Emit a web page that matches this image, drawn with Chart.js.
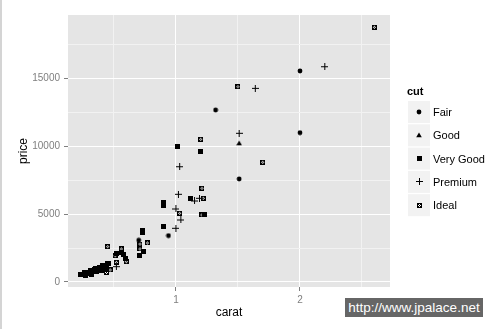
<!DOCTYPE html>
<html>
<head>
<meta charset="utf-8">
<script src="https://cdn.jsdelivr.net/npm/chart.js@4/dist/chart.umd.min.js"></script>
<style>
  body { margin: 0; background: #fff; }
  #wrap { position: relative; width: 499px; height: 329px; }
  #edge { position: absolute; left: 0; top: 0; width: 2px; height: 329px; background: #d4d4d4; }
  #mark {
    position: absolute; left: 345px; top: 298px; width: 138px; height: 19px;
    background: #666; color: #fff; font: 13.5px "Liberation Sans", Arial, sans-serif;
    line-height: 19px; text-align: center; white-space: nowrap;
  }
</style>
</head>
<body>
<div id="wrap">
  <canvas id="chart" width="499" height="329"></canvas>
  <div id="edge"></div>
  <div id="mark">http://www.jpalace.net</div>
</div>
<script>
// categories
const cuts = ['Fair', 'Good', 'Very Good', 'Premium', 'Ideal'];

// values (carat, price)
const fairCarat = [2.00, 1.32, 2.00, 1.51, 0.94, 0.70];
const fairPrice = [15570, 12690, 11015, 7600, 3420, 3075];

const goodCarat = [1.51];
const goodPrice = [10255];

const veryGoodCarat = [1.01, 1.20, 1.12, 0.90, 0.90, 1.23, 0.90, 0.73, 0.73, 0.74, 0.71,
  0.52, 0.56, 0.58, 0.59, 0.23, 0.26, 0.28, 0.31, 0.32, 0.34, 0.36, 0.38, 0.40, 0.41,
  0.44, 0.45, 0.46, 0.25, 0.29, 0.30, 0.33, 0.35, 0.37, 0.39, 0.42, 0.43, 0.27];
const veryGoodPrice = [9983, 9665, 6124, 5900, 5680, 4980, 4110, 3813, 3665, 2213, 1970,
  2117, 2150, 1992, 1749, 516, 664, 590, 811, 553, 885, 738, 1033, 811, 1180,
  1033, 1328, 1400, 560, 700, 620, 760, 980, 870, 940, 1100, 900, 480];

const premiumCarat = [2.20, 1.64, 1.51, 1.03, 1.02, 1.15, 1.19, 1.00, 1.04, 1.00, 0.52];
const premiumPrice = [15885, 14290, 10971, 8506, 6470, 5976, 6175, 5386, 4574, 3962, 1129];

const idealCarat = [2.60, 1.50, 1.20, 1.70, 1.21, 1.22, 1.03, 1.21, 0.45, 0.56, 0.51,
  0.60, 0.47, 0.52, 0.71, 0.77, 0.71, 0.44];
const idealPrice = [18792, 14409, 10528, 8831, 6913, 6175, 5068, 4943, 2605, 2435, 1940,
  1498, 885, 1450, 2800, 2877, 2435, 700];

// tick labels
const caratTicks = [0.5, 1, 1.5, 2, 2.5];
const priceTicks = [0, 2500, 5000, 7500, 10000, 12500, 15000, 17500];

// point shapes like ggplot's 16, 17, 15, 3, 7
function makeShape(kind) {
  const c = document.createElement('canvas');
  const g = c.getContext('2d');
  if (kind === 'circle') {
    c.width = 6; c.height = 6;
    g.fillStyle = '#000';
    g.beginPath(); g.arc(3, 3, 2.4, 0, Math.PI * 2); g.fill();
  } else if (kind === 'triangle') {
    c.width = 6; c.height = 6;
    g.fillStyle = '#000';
    g.beginPath(); g.moveTo(3, 0.5); g.lineTo(5.8, 5.3); g.lineTo(0.2, 5.3); g.closePath(); g.fill();
  } else if (kind === 'square') {
    c.width = 5; c.height = 5;
    g.fillStyle = '#000';
    g.fillRect(0, 0, 5, 5);
  } else if (kind === 'plus') {
    c.width = 7; c.height = 7;
    g.fillStyle = '#000';
    g.fillRect(3, 0, 1, 7);
    g.fillRect(0, 3, 7, 1);
  } else {
    // square with an X inside
    c.width = 5; c.height = 5;
    g.fillStyle = '#000';
    g.fillRect(0, 0, 5, 5);
    g.fillStyle = '#fff';
    g.fillRect(2, 1, 1, 1);
    g.fillRect(1, 2, 1, 1);
    g.fillRect(3, 2, 1, 1);
    g.fillRect(2, 3, 1, 1);
  }
  return c;
}
const shapes = [makeShape('circle'), makeShape('triangle'), makeShape('square'),
  makeShape('plus'), makeShape('ideal')];

const seriesCarat = [fairCarat, goodCarat, veryGoodCarat, premiumCarat, idealCarat];
const seriesPrice = [fairPrice, goodPrice, veryGoodPrice, premiumPrice, idealPrice];

const datasets = cuts.map((cut, i) => ({
  label: cut,
  data: seriesCarat[i].map((c, j) => ({ x: c, y: seriesPrice[i][j] })),
  pointStyle: shapes[i],
  pointRadius: 3,
  pointHoverRadius: 3
}));

const panelBg = {
  id: 'panelBg',
  beforeDraw(chart) {
    const a = chart.chartArea;
    const ctx = chart.ctx;
    ctx.save();
    ctx.fillStyle = '#E5E5E5';
    ctx.fillRect(a.left, a.top, a.right - a.left, a.bottom - a.top);
    ctx.restore();
  }
};

const cutLegend = {
  id: 'cutLegend',
  afterDraw(chart) {
    const ctx = chart.ctx;
    ctx.save();
    ctx.textBaseline = 'middle';
    ctx.fillStyle = '#000';
    ctx.font = 'bold 11px "Liberation Sans", Arial, sans-serif';
    ctx.fillText('cut', 407, 92);
    ctx.font = '11px "Liberation Sans", Arial, sans-serif';
    cuts.forEach((cut, i) => {
      const top = 101 + i * 23.3;
      ctx.fillStyle = '#F2F2F2';
      ctx.fillRect(408, top, 22, 22);
      const s = shapes[i];
      ctx.drawImage(s, Math.round(419 - s.width / 2), Math.round(top + 11 - s.height / 2));
      ctx.fillStyle = '#000';
      ctx.fillText(cut, 433, top + 12);
    });
    ctx.restore();
  }
};

const isMajorX = (v) => Number.isInteger(v);
const isMajorY = (v) => v % 5000 === 0;

new Chart(document.getElementById('chart'), {
  type: 'scatter',
  data: { datasets: datasets },
  plugins: [panelBg, cutLegend],
  options: {
    responsive: false,
    animation: false,
    events: [],
    layout: { padding: { top: 15, right: 109, left: 0, bottom: 0 } },
    plugins: { legend: { display: false }, tooltip: { enabled: false } },
    scales: {
      x: {
        type: 'linear',
        min: 0.13,
        max: 2.726,
        afterBuildTicks: (scale) => { scale.ticks = caratTicks.map(v => ({ value: v })); },
        afterFit: (scale) => { scale.height = 42; },
        border: { display: false },
        grid: {
          color: (ctx) => isMajorX(ctx.tick.value) ? '#FFFFFF' : '#F2F2F2',
          lineWidth: 1,
          tickColor: (ctx) => isMajorX(ctx.tick.value) ? '#7F7F7F' : 'rgba(0,0,0,0)',
          tickLength: 4
        },
        ticks: {
          autoSkip: false,
          maxRotation: 0,
          padding: 3,
          color: '#7F7F7F',
          font: { family: '"Liberation Sans", Arial, sans-serif', size: 10 },
          callback: (v) => isMajorX(v) ? String(v) : ''
        },
        title: {
          display: true,
          text: 'carat',
          color: '#000',
          font: { family: '"Liberation Sans", Arial, sans-serif', size: 12 },
          padding: { top: 0, bottom: 9 }
        }
      },
      y: {
        type: 'linear',
        min: -370,
        max: 19700,
        afterBuildTicks: (scale) => { scale.ticks = priceTicks.map(v => ({ value: v })); },
        afterFit: (scale) => { scale.width = 68; },
        border: { display: false },
        grid: {
          color: (ctx) => isMajorY(ctx.tick.value) ? '#FFFFFF' : '#F2F2F2',
          lineWidth: 1,
          tickColor: (ctx) => isMajorY(ctx.tick.value) ? '#7F7F7F' : 'rgba(0,0,0,0)',
          tickLength: 4
        },
        ticks: {
          autoSkip: false,
          padding: 4,
          color: '#7F7F7F',
          font: { family: '"Liberation Sans", Arial, sans-serif', size: 10 },
          callback: (v) => isMajorY(v) ? String(v) : ''
        },
        title: {
          display: true,
          text: 'price',
          color: '#000',
          font: { family: '"Liberation Sans", Arial, sans-serif', size: 12 },
          padding: { top: 16, bottom: 0 }
        }
      }
    }
  }
});
</script>
</body>
</html>
